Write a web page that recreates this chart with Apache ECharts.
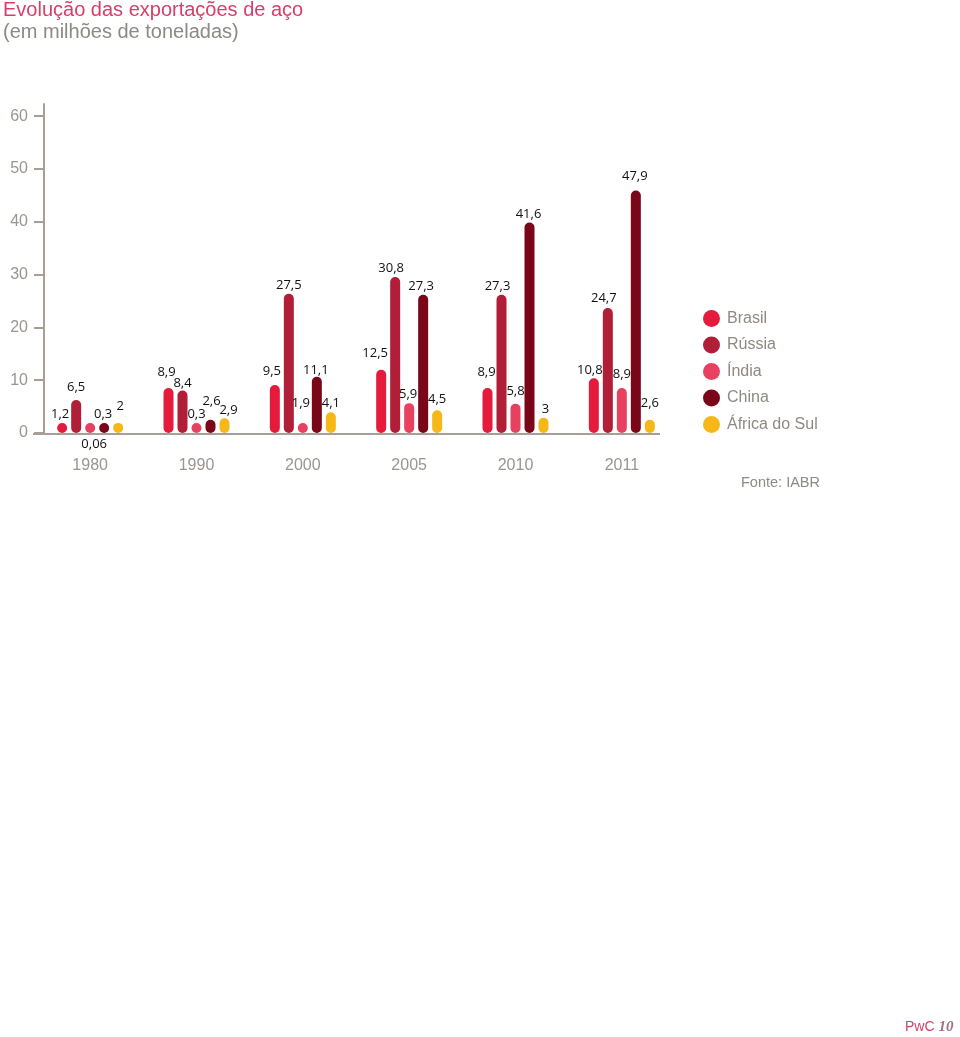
<!DOCTYPE html>
<html>
<head>
<meta charset="utf-8">
<script src="https://cdn.jsdelivr.net/npm/echarts@6/dist/echarts.min.js"></script>
<style>
html,body{margin:0;padding:0;background:#fff;}
#chart{width:960px;height:1037px;}
</style>
</head>
<body>
<div id="chart"></div>
<script>
const categories = ['1980', '1990', '2000', '2005', '2010', '2011'];
const seriesNames = ['Brasil', 'Rússia', 'Índia', 'China', 'África do Sul'];
const brasil = [1.2, 8.9, 9.5, 12.5, 8.9, 10.8];
const russia = [6.5, 8.4, 27.5, 30.8, 27.3, 24.7];
const india = [0.06, 0.3, 1.9, 5.9, 5.8, 8.9];
const china = [0.3, 2.6, 11.1, 27.3, 41.6, 47.9];
const africa = [2, 2.9, 4.1, 4.5, 3, 2.6];
const yTicks = [0, 10, 20, 30, 40, 50, 60];

// label nudges [dx, dy] per series and category (layout only)
const labelNudge = [
  [[-2, 0], [-2, -7], [-3, -5], [-6, -8], [-1, -7], [-4, 0]],
  [[0, -4], [0, 1], [0, 0], [-4, 0], [-4, 0], [-4, -1]],
  [[4, 2], [0, 0], [-2, -11], [-1, 0], [0, -4], [0, -5]],
  [[-1, 0], [1, -10], [-1, 2], [-2, 0], [-1, 0], [-1, -6]],
  [[2, -8], [4, 0], [0, 0], [0, -2], [2, 0], [0, -8]]
];

const seriesValues = [brasil, russia, india, china, africa];
const colors = ['#e51b3b', '#b01f37', '#e8405f', '#7a0619', '#f6b816'];
const axisColor = '#a79f97';
const greyText = '#8f8983';

const fmt = v => String(v).replace('.', ',');

const chart = echarts.init(document.getElementById('chart'));
chart.setOption({
  animation: false,
  color: colors,
  title: {
    text: 'Evolução das exportações de aço',
    subtext: '(em milhões de toneladas)',
    left: 3, top: 0, padding: 0, itemGap: 2,
    textStyle: { color: '#d53f6a', fontSize: 20, fontWeight: 'normal', fontFamily: 'Liberation Sans' },
    subtextStyle: { color: greyText, fontSize: 20, fontFamily: 'Liberation Sans' }
  },
  legend: {
    orient: 'vertical', left: 703, top: 310, padding: 0,
    itemWidth: 17, itemHeight: 17, itemGap: 9.5,
    icon: 'circle',
    textStyle: { color: greyText, fontSize: 16, fontFamily: 'Liberation Sans', padding: [0, 0, 0, 2] },
    data: seriesNames
  },
  grid: { left: 37, right: 285, top: 104, bottom: 604 },
  xAxis: {
    type: 'category', data: categories,
    axisLine: { show: false }, axisTick: { show: false },
    axisLabel: { color: '#9b958f', fontSize: 16, fontFamily: 'Liberation Sans', margin: 25 }
  },
  yAxis: [{
    type: 'value', min: 0, max: 62.3, offset: -7,
    splitLine: { show: false },
    axisLine: { show: true, lineStyle: { color: axisColor, width: 2 } },
    axisTick: { show: true, length: 10, inside: false, customValues: yTicks, lineStyle: { color: axisColor, width: 2 } },
    axisLabel: { customValues: yTicks, color: '#9b958f', fontSize: 16, fontFamily: 'Liberation Sans', margin: 16 }
  }, {
    type: 'value', min: 0, max: 65, show: false, splitLine: { show: false }
  }],
  series: seriesNames.map((name, i) => ({
    name: name, type: 'bar', yAxisIndex: 1,
    barWidth: 10, barGap: '40%', barMinHeight: 10,
    itemStyle: { borderRadius: 5, color: colors[i] },
    label: { show: true, position: 'top', distance: 2, color: '#111', fontSize: 13, fontFamily: 'Open Sans', formatter: p => fmt(p.value) },
    data: seriesValues[i].map((v, j) => ({
      value: v,
      label: v < 0.1
        ? { position: 'bottom', distance: 3, offset: labelNudge[i][j] }
        : { offset: labelNudge[i][j] }
    }))
  })),
  graphic: [
    { type: 'line', shape: { x1: 33, y1: 434, x2: 660, y2: 434 }, style: { stroke: axisColor, lineWidth: 2 }, z: 10 },
    { type: 'text', left: 741, top: 475, style: { text: 'Fonte: IABR', fill: greyText, fontSize: 14.5, fontFamily: 'Liberation Sans' } },
    { type: 'text', left: 905, top: 1020, style: { text: '{a|PwC }{b|10}', rich: { a: { fill: '#d3426b', fontSize: 14, fontFamily: 'Liberation Sans' }, b: { fill: '#a0707e', fontSize: 15, fontStyle: 'italic', fontWeight: 'bold', fontFamily: 'Liberation Serif' } } } }
  ]
});
</script>
</body>
</html>
